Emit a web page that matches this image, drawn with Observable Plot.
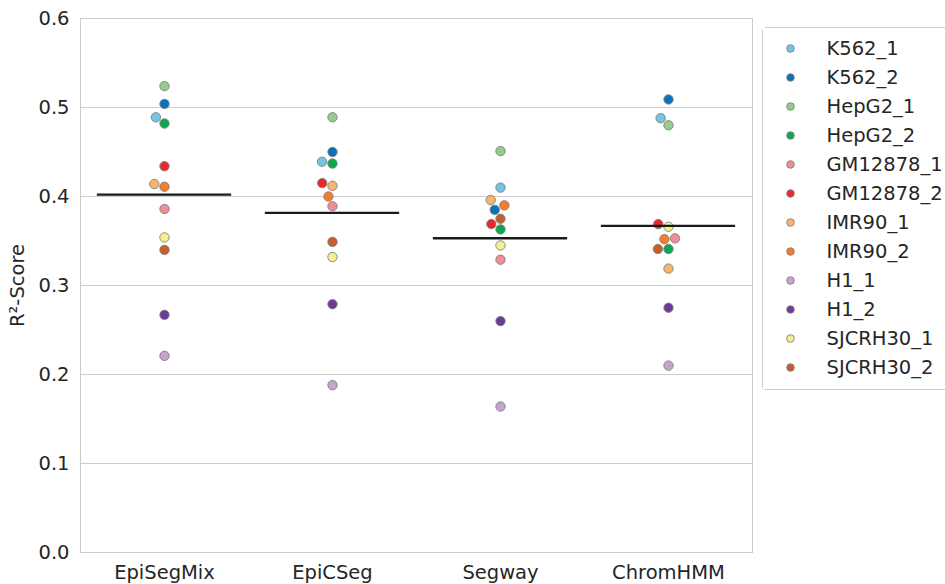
<!DOCTYPE html>
<html>
<head>
<meta charset="utf-8">
<script src="https://cdn.jsdelivr.net/npm/d3@7"></script>
<script src="https://cdn.jsdelivr.net/npm/@observablehq/plot@0.6"></script>
<style>
  html, body { margin: 0; padding: 0; background: #ffffff; overflow: hidden; }
  #wrap { position: relative; width: 945px; height: 584px; overflow: hidden; }
  #legend { position: absolute; left: 762px; top: 27px; width: 200px; border: 1px solid #cccccc; border-radius: 4px; background: #ffffff; }
  #legend svg, #chart svg { max-width: none !important; display: block; }
</style>
</head>
<body>
<div id="wrap"><div id="chart"></div><div id="legend"></div></div>
<script>
// ---- data ----
const methods = ["EpiSegMix", "EpiCSeg", "Segway", "ChromHMM"];
const samples = ["K562_1", "K562_2", "HepG2_1", "HepG2_2", "GM12878_1", "GM12878_2",
                 "IMR90_1", "IMR90_2", "H1_1", "H1_2", "SJCRH30_1", "SJCRH30_2"];
const sampleColors = ["#74c4e2", "#0a72ba", "#92cd8c", "#0aa84f", "#f18d99", "#e8282b",
                      "#fbb470", "#f47d2a", "#c8a2d0", "#6d3b97", "#f3ef8e", "#c85d2a"];
// R²-scores per method, in the order of `samples`
const episegmixScores = [0.489, 0.504, 0.524, 0.482, 0.386, 0.434, 0.414, 0.411, 0.221, 0.267, 0.354, 0.340];
const epicsegScores   = [0.439, 0.450, 0.489, 0.437, 0.389, 0.415, 0.412, 0.400, 0.188, 0.279, 0.332, 0.349];
const segwayScores    = [0.410, 0.385, 0.451, 0.363, 0.329, 0.369, 0.396, 0.390, 0.164, 0.260, 0.345, 0.375];
const chromhmmScores  = [0.488, 0.509, 0.480, 0.341, 0.353, 0.369, 0.319, 0.352, 0.210, 0.275, 0.366, 0.341];
const yTicks = [0, 0.1, 0.2, 0.3, 0.4, 0.5, 0.6];

const scoreTable = [episegmixScores, epicsegScores, segwayScores, chromhmmScores];
const rows = d3.sort(
  methods.flatMap((m, mi) => samples.map((s, si) => ({method: m, sample: s, score: scoreTable[mi][si]}))),
  d => d.score
);

const textColor = "#262626";
const gridColor = "#cccccc";
const fontPx = 19.5;

const chart = Plot.plot({
  width: 945,
  height: 584,
  marginLeft: 79,
  marginRight: 192,
  marginTop: 18,
  marginBottom: 32,
  style: {fontFamily: "DejaVu Sans", fontSize: fontPx + "px", color: textColor, background: "#ffffff"},
  fx: {domain: methods, padding: 0, label: null},
  y: {domain: [0, 0.6]},
  color: {domain: samples, range: sampleColors},
  marks: [
    Plot.gridY(yTicks, {stroke: gridColor, strokeOpacity: 1, strokeWidth: 1}),
    Plot.frame({facet: "super", stroke: gridColor, strokeWidth: 1}),
    Plot.axisY(yTicks, {tickSize: 0, tickPadding: 11, tickFormat: d3.format(".1f"), fontSize: fontPx,
      label: "R²-Score", labelAnchor: "center", labelOffset: 70, labelArrow: "none"}),
    Plot.axisFx({anchor: "bottom", tickSize: 0, tickPadding: 13, fontSize: fontPx, label: null}),
    Plot.dot(rows, Plot.dodgeX({anchor: "middle", padding: 1.2}, {
      fx: "method", y: "score", r: 4.7, fill: "sample", stroke: "#808080", strokeWidth: 0.9
    })),
    Plot.tickY(rows, Plot.groupZ({y: "mean"}, {
      fx: "method", y: "score", stroke: "#1a1a1a", strokeWidth: 2.3, insetLeft: 16.85, insetRight: 16.85
    }))
  ]
});
document.getElementById("chart").appendChild(chart);

const legend = Plot.plot({
  width: 200,
  height: 361,
  marginLeft: 0,
  marginRight: 0,
  marginTop: 16,
  marginBottom: 19,
  style: {fontFamily: "DejaVu Sans", fontSize: fontPx + "px", color: textColor, background: "#ffffff"},
  x: {axis: null},
  y: {type: "point", domain: samples, padding: 0, axis: null},
  color: {domain: samples, range: sampleColors},
  marks: [
    Plot.dot(samples, {y: d => d, fill: d => d, r: 3.8, stroke: "#808080", strokeWidth: 0.9,
      frameAnchor: "left", dx: 27}),
    Plot.text(samples, {y: d => d, text: d => d, frameAnchor: "left", dx: 63, textAnchor: "start",
      fill: textColor, fontSize: fontPx})
  ]
});
document.getElementById("legend").appendChild(legend);
</script>
</body>
</html>
